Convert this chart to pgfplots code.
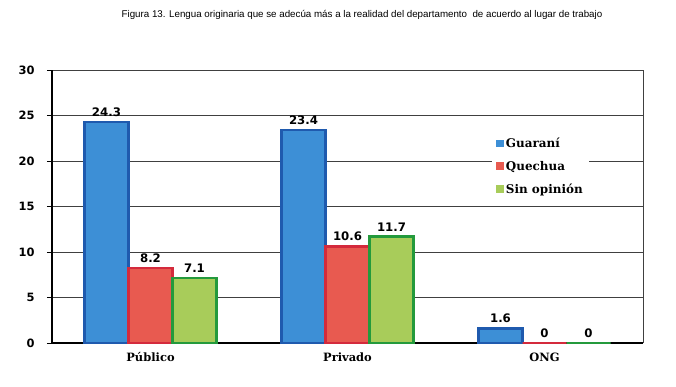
\documentclass[border=0pt]{standalone}
\usepackage{pgfplots}
\pgfplotsset{compat=1.18}
\usepackage{fontspec}
\setmainfont{Liberation Sans}
\newfontfamily\numfont{DejaVu Sans}
\newfontfamily\serfont{DejaVu Serif}
\definecolor{gfill}{HTML}{3D8FD6}
\definecolor{gdraw}{HTML}{1F5AAE}
\definecolor{qfill}{HTML}{E85A50}
\definecolor{qdraw}{HTML}{D42A3C}
\definecolor{sfill}{HTML}{A8CC5A}
\definecolor{sdraw}{HTML}{249A3C}
\begin{document}
\begin{tikzpicture}[x=1bp,y=1bp]
\useasboundingbox (0,0) rectangle (676,386);
\node[anchor=center,font=\fontsize{9.8}{11}\selectfont] at (362,371) {Figura 13. Lengua originaria que se adecúa más a la realidad del departamento\ \ de acuerdo al lugar de trabajo};
\begin{axis}[
  at={(52bp,43bp)}, anchor=south west,
  scale only axis, width=591bp, height=273bp,
  xmin=-0.5, xmax=2.5, ymin=0, ymax=30,
  ytick={0,5,...,30},
  xtick={0,1,2},
  xticklabels={Público,Privado,ONG},
  x tick label style={font=\serfont\bfseries\fontsize{11.5}{12}\selectfont, yshift=-1bp},
  y tick label style={font=\numfont\bfseries\fontsize{11.5}{12}\selectfont, xshift=-9bp},
  /pgf/number format/assume math mode=true,
  major x tick style={draw=none},
  extra x ticks={0.5,1.5},
  extra x tick labels={},
  extra x tick style={major tick length=4bp, tick style={black}, grid=none},
  tick align=outside,
  major tick length=5bp,
  ytick style={black, line width=0.8pt},
  ymajorgrids,
  grid style={black!75, line width=1pt},
  axis line style={black, line width=1.2pt},
  axis x line*=bottom,
  axis y line*=left,
  ybar=0pt, bar width=44bp,
  nodes near coords,
  every node near coord/.append style={font=\numfont\bfseries\fontsize{11.8}{12}\selectfont, yshift=1bp},
  legend style={at={(0.744,0.77)}, anchor=north west, draw=none, fill=white,
    font=\serfont\bfseries\fontsize{12}{13}\selectfont, row sep=8bp,
    inner xsep=4bp, inner ysep=3bp},
  legend cell align=left,
  legend image code/.code={\draw[#1, draw=none] (0bp,-3.5bp) rectangle (8bp,4bp);},
  clip=false,
]
\draw[black!75, line width=1pt] (axis cs:2.5,0) -- (axis cs:2.5,30);
\addplot[fill=gfill, draw=gdraw, line width=2.2pt] coordinates {(0,24.3) (1,23.4) (2,1.6)};
\addplot[fill=qfill, draw=qdraw, line width=2.2pt] coordinates {(0,8.2) (1,10.6) (2,0)};
\addplot[fill=sfill, draw=sdraw, line width=2.2pt] coordinates {(0,7.1) (1,11.7) (2,0)};
\legend{Guaraní,Quechua,Sin opinión}
\end{axis}
\end{tikzpicture}
\end{document}
